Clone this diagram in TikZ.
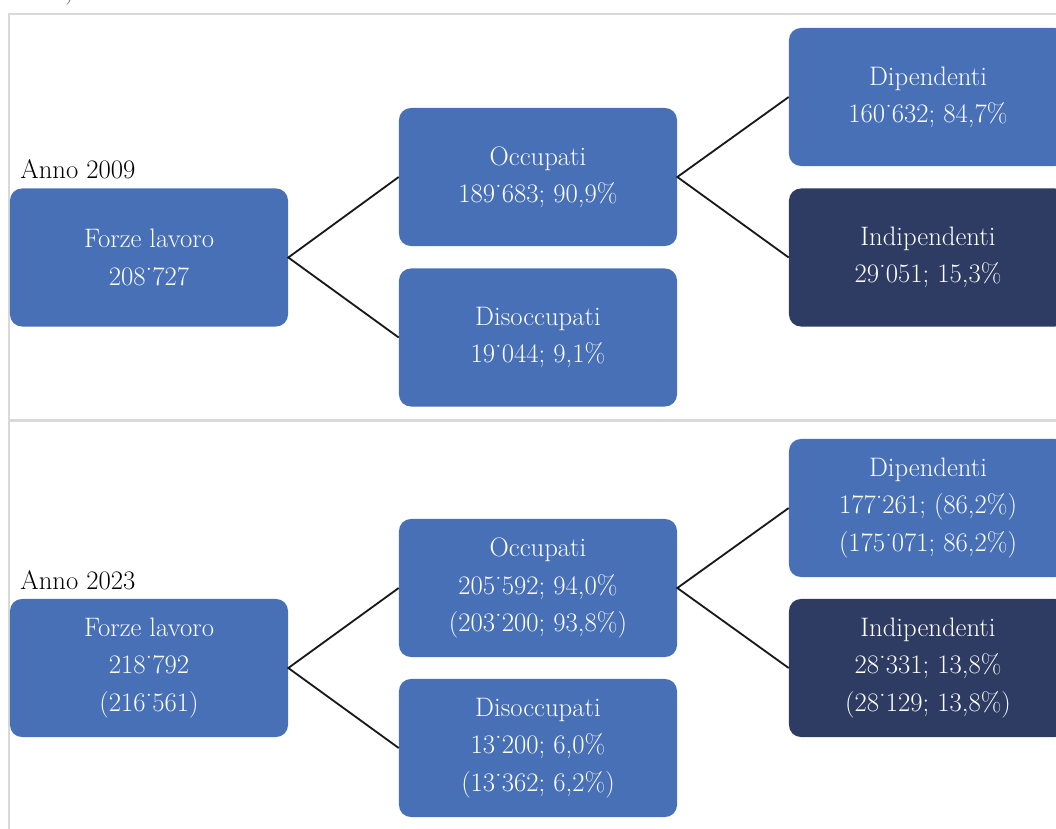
\documentclass[tikz,border=0pt]{standalone}
\usetikzlibrary{positioning}
\definecolor{boxblue}{RGB}{72,112,182}
\definecolor{boxdark}{RGB}{46,60,100}
\definecolor{framegray}{RGB}{217,217,217}
\newcommand{\tsep}{˙}
\tikzset{
	boxnode/.style={fill=boxblue, text=white, rounded corners=0.3cm,
		minimum width=6.95cm, minimum height=3.45cm, align=center,
		font=\fontsize{19}{26.5}\selectfont},
	darknode/.style={boxnode, fill=boxdark},
	yearlabel/.style={anchor=base west, inner sep=0pt, font=\fontsize{19}{22}\selectfont},
	link/.style={line width=1.3pt, black!90}
}
\begin{document}
\begin{tikzpicture}[x=0.025cm,y=-0.025cm]
	\useasboundingbox (0,0) rectangle (1056,828);
	\clip (0,0) rectangle (1056,828);
	% frame
	\draw[framegray, line width=1.5pt] (1060,14) -- (9,14) -- (9,830);
	\draw[framegray, line width=2.5pt] (9,420.5) -- (1060,420.5);
	\node[anchor=base, inner sep=0pt, text=black!70, font=\fontsize{19}{22}\selectfont] (capfrag) at (70,-1) {)};
	% 2009
	\node[boxnode] (fl09) at (149,257.5) {Forze lavoro\\208\tsep727};
	\node[boxnode] (occ09) at (538,177) {Occupati\\189\tsep683; 90,9\%};
	\node[boxnode] (dis09) at (538,337.5) {Disoccupati\\19\tsep044; 9,1\%};
	\node[boxnode] (dip09) at (928,97) {Dipendenti\\160\tsep632; 84,7\%};
	\node[darknode] (ind09) at (928,257.5) {Indipendenti\\29\tsep051; 15,3\%};
	\node[yearlabel] (anno09) at (20,178) {Anno 2009};
	\draw[link] (occ09.west) -- (fl09.east) -- (dis09.west);
	\draw[link] (dip09.west) -- (occ09.east) -- (ind09.west);
	% 2023
	\node[boxnode] (fl23) at (149,668) {Forze lavoro\\218\tsep792\\(216\tsep561)};
	\node[boxnode] (occ23) at (538,588) {Occupati\\205\tsep592; 94,0\%\\(203\tsep200; 93,8\%)};
	\node[boxnode] (dis23) at (538,748) {Disoccupati\\13\tsep200; 6,0\%\\(13\tsep362; 6,2\%)};
	\node[boxnode] (dip23) at (928,508) {Dipendenti\\177\tsep261; (86,2\%)\\(175\tsep071; 86,2\%)};
	\node[darknode] (ind23) at (928,668) {Indipendenti\\28\tsep331; 13,8\%\\(28\tsep129; 13,8\%)};
	\node[yearlabel] (anno23) at (20,589) {Anno 2023};
	\draw[link] (occ23.west) -- (fl23.east) -- (dis23.west);
	\draw[link] (dip23.west) -- (occ23.east) -- (ind23.west);
\end{tikzpicture}
\end{document}
